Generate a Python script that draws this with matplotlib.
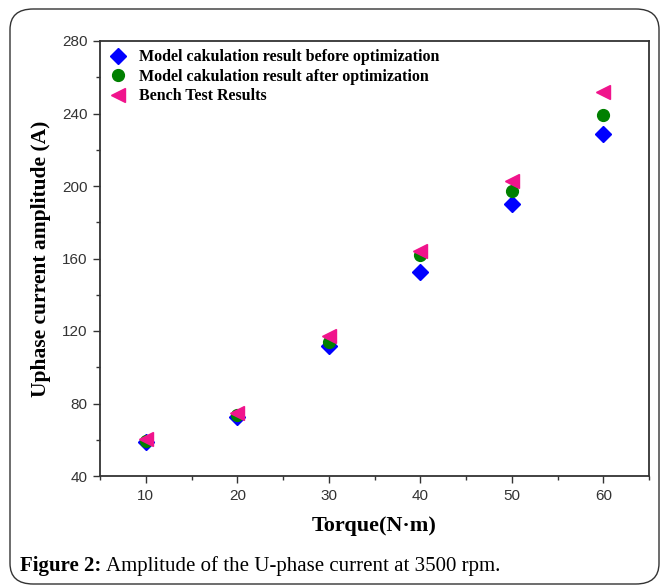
import matplotlib
matplotlib.use("Agg")
import matplotlib.pyplot as plt
from matplotlib.patches import FancyBboxPatch
from matplotlib.ticker import MultipleLocator

torque = [10, 20, 30, 40, 50, 60]
before_opt = [58.5, 72.5, 111.5, 152.5, 190, 228.5]
after_opt = [59.5, 73.5, 114, 162, 197, 239]
bench = [60.5, 75, 117, 164, 202.5, 252]
labels = ["Model cakulation result before optimization",
          "Model cakulation result after optimization",
          "Bench Test Results"]

fig = plt.figure(figsize=(6.62, 5.88), dpi=100)
W, H = 662, 588

# rounded frame around the figure
frame = FancyBboxPatch((10 / W, 4 / H), 649 / W, 575 / H,
                       boxstyle="round,pad=0,rounding_size=0.035",
                       transform=fig.transFigure, fill=False,
                       edgecolor="#333333", linewidth=1.0)
fig.patches.append(frame)

ax = fig.add_axes([100 / W, 1 - 476 / H, 549 / W, 435 / H])
ax.plot(torque, before_opt, linestyle="none", marker="D", markersize=8.5,
        color="#0000FF", label=labels[0])
ax.plot(torque, after_opt, linestyle="none", marker="o", markersize=8.5,
        color="#008000", label=labels[1])
ax.plot(torque, bench, linestyle="none", marker="<", markersize=10.5,
        color="#F0148C", label=labels[2])

ax.set_xlim(5, 65)
ax.set_ylim(40, 280)
ax.xaxis.set_major_locator(MultipleLocator(10))
ax.xaxis.set_minor_locator(MultipleLocator(5))
ax.yaxis.set_major_locator(MultipleLocator(40))
ax.yaxis.set_minor_locator(MultipleLocator(20))
ax.tick_params(which="major", direction="out", length=5, width=1.0,
               color="#333333", labelsize=11, labelcolor="#333333", pad=4)
ax.tick_params(which="minor", direction="out", length=3, width=1.0,
               color="#333333")
for lab in ax.get_xticklabels() + ax.get_yticklabels():
    lab.set_family("Liberation Sans")
for s in ax.spines.values():
    s.set_color("#333333")
    s.set_linewidth(1.3)

ax.set_xlabel("Torque(N·m)", family="Liberation Serif", fontweight="bold",
              fontsize=16, labelpad=10)
ax.set_ylabel("Uphase current amplitude (A)", family="Liberation Serif",
              fontweight="bold", fontsize=15.5, labelpad=8)

leg = ax.legend(loc="upper left", frameon=False, bbox_to_anchor=(0.0, 1.0),
                prop={"family": "Liberation Serif", "weight": "bold", "size": 11.5},
                handletextpad=0.7, labelspacing=0.22, borderaxespad=0.12,
                handlelength=1.2)

t1 = fig.text(20 / W, 1 - 571 / H, "Figure 2:", family="Liberation Serif",
              fontweight="bold", fontsize=15, va="baseline")
fig.canvas.draw()
bb = t1.get_window_extent()
fig.text((bb.x1 + 5) / W, 1 - 571 / H,
         "Amplitude of the U-phase current at 3500 rpm.",
         family="Liberation Serif", fontsize=15, va="baseline")

fig.savefig("out.png", dpi=100)
